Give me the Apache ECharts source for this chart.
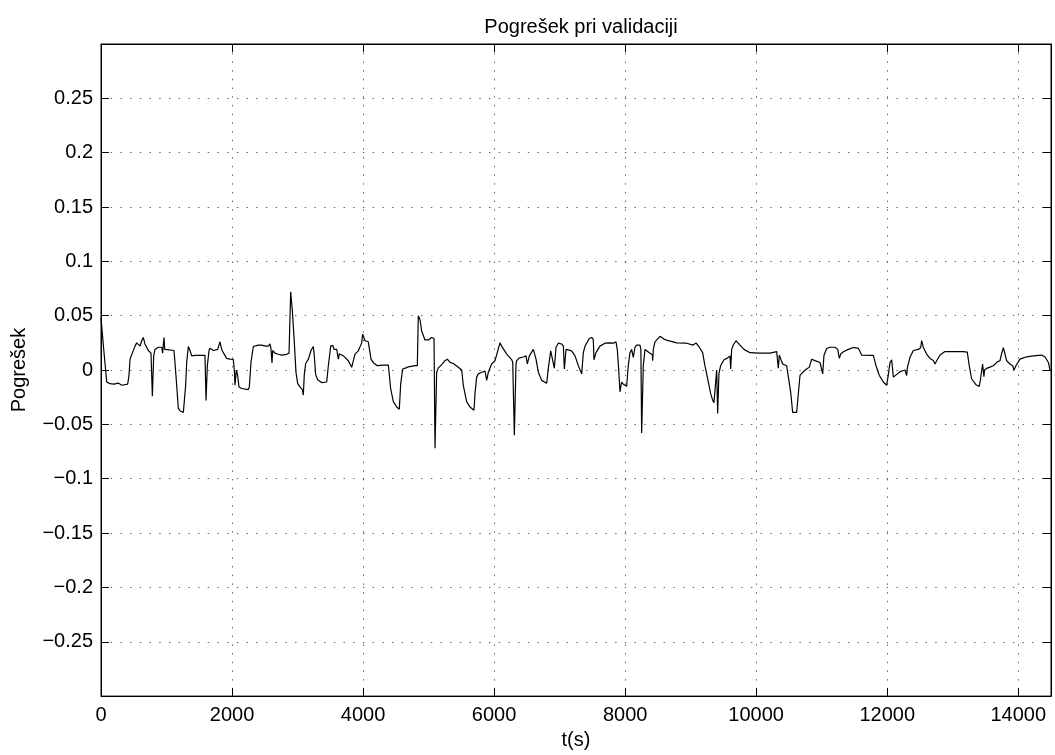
<!DOCTYPE html>
<html>
<head>
<meta charset="utf-8">
<script src="https://cdn.jsdelivr.net/npm/echarts@6/dist/echarts.min.js"></script>
<style>
html,body{margin:0;padding:0;background:#fff;}
#chart{width:1055px;height:755px;}
</style>
</head>
<body>
<div id="chart"></div>
<script>
const chartTitle = 'Pogrešek pri validaciji';
const xAxisName = 't(s)';
const yAxisName = 'Pogrešek';

const tSec = [
0,40,87,137,200,260,320,407,427,443,478,519,545,570,596,621,646,670,697,722,763,784,804,824,875,926,941,951,962,972,1002,
1114,1129,1155,1180,1206,1257,1272,1292,1308,1333,1358,1384,1435,1536,1587,1603,1623,1649,1664,1714,1781,1816,1842,1867,1918,1969,
2019,2035,2045,2065,2086,2106,2147,2248,2264,2289,2325,2350,2401,2452,2477,2513,2553,2579,2594,2610,2620,2655,2706,2757,2834,2870,
2895,2920,2951,2976,3002,3037,3073,3088,3103,3124,3165,3205,3241,3256,3276,3307,3368,3445,3470,3506,3537,3557,3598,3623,3638,3700,
3775,3826,3852,3877,3928,3953,3979,3994,4030,4080,4106,4121,4157,4218,4309,4386,4421,4462,4513,4553,4574,4604,4625,4655,4691,4792,
4828,4843,4869,4894,4945,4996,5047,5083,5098,5123,5149,5200,5250,5286,5327,5378,5454,5505,5530,5581,5632,5693,5709,5734,5759,5810,
5861,5887,5912,5963,6014,6090,6115,6192,6268,6284,6309,6334,6344,6380,6446,6487,6507,6538,6599,6640,6675,6726,6803,6828,6864,6894,
6919,6945,6980,7031,7057,7072,7098,7118,7184,7235,7286,7337,7362,7388,7453,7489,7514,7524,7555,7616,7692,7768,7819,7860,7880,7901,
7921,7946,7972,7997,8023,8048,8074,8099,8124,8150,8175,8226,8240,8252,8277,8303,8328,8369,8415,8420,8430,8455,8532,8593,8659,8787,
8939,9040,9081,9132,9183,9218,9270,9305,9336,9356,9382,9397,9412,9432,9458,9509,9560,9601,9611,9626,9651,9692,9753,9814,9906,10058,
10211,10313,10338,10353,10374,10404,10465,10491,10526,10557,10618,10643,10669,10720,10771,10811,10847,10898,10974,11000,11015,11035,
11076,11127,11203,11244,11270,11290,11331,11407,11483,11560,11610,11788,11829,11880,11941,11992,12018,12043,12068,12094,12145,12196,
12272,12297,12307,12348,12399,12475,12511,12526,12552,12602,12653,12704,12730,12755,12806,12882,13009,13161,13222,13252,13288,13354,
13405,13425,13456,13476,13486,13517,13568,13619,13680,13721,13746,13772,13797,13823,13874,13914,13935,13965,14026,14128,14230,14358,
14409,14460,14485
];

const pogresek = [
0.048,0.02,-0.011,-0.0125,-0.013,-0.012,-0.014,-0.013,-0.005,0.010,0.0156,0.022,0.025,0.024,0.022,0.027,0.030,0.024,0.021,0.018,0.0156,-0.024,0.013,0.019,0.021,0.021,0.0156,0.023,0.030,0.019,0.019,
0.018,0.007,-0.014,-0.035,-0.0375,-0.039,-0.038,-0.014,0.007,0.0217,0.018,0.013,0.0135,0.0135,0.0135,-0.028,0.004,0.018,0.020,0.018,0.019,0.026,0.019,0.016,0.0107,0.010,
0.0098,0.0,-0.014,0.0,-0.005,-0.0156,-0.017,-0.018,-0.0156,0.007,0.0217,0.021,0.023,0.023,0.024,0.022,0.022,0.024,0.020,0.0065,0.018,0.0156,0.0145,0.0137,0.0145,0.0156,
0.072,0.055,0.025,-0.002,-0.0125,-0.0155,-0.018,-0.023,-0.004,0.006,0.010,0.018,0.0217,0.013,-0.004,-0.009,-0.0115,-0.011,0.004,0.022,0.0227,0.019,0.019,0.010,0.015,0.013,
0.0086,0.0026,0.0086,0.0147,0.0177,0.019,0.025,0.033,0.027,0.026,0.025,0.010,0.0068,0.004,0.0046,0.0046,-0.017,-0.029,-0.034,-0.036,-0.013,0.001,0.0,0.002,0.003,0.004,
0.004,0.050,0.0465,0.036,0.0277,0.0277,0.030,0.029,-0.072,-0.002,0.002,0.005,0.0086,0.010,0.007,0.006,0.0026,0.0,-0.014,-0.029,-0.034,-0.037,-0.021,-0.0065,-0.0035,-0.002,
-0.001,-0.0095,-0.002,0.0056,0.0086,0.025,0.022,0.0147,0.0095,0.0075,-0.060,0.005,0.0086,0.011,0.012,0.013,0.0056,0.013,0.019,0.010,-0.002,-0.0095,-0.0122,0.002,0.0177,0.019,
0.0017,0.021,0.0247,0.024,0.022,0.001,0.019,0.0207,0.0177,0.013,0.004,-0.0035,0.016,0.022,0.029,0.030,0.028,0.0095,0.016,0.022,0.0247,0.025,0.0247,0.026,0.019,0.001,
-0.020,-0.011,-0.013,-0.0147,-0.015,0.004,0.016,0.019,0.0117,0.021,0.023,0.023,0.019,-0.058,0.004,0.019,0.0195,0.016,0.014,0.0086,0.019,0.026,0.031,0.0285,0.027,0.025,
0.0247,0.023,0.025,0.021,0.016,0.004,-0.011,-0.0217,-0.0277,-0.030,-0.011,0.0,-0.040,-0.003,0.004,0.0095,0.011,0.013,0.001,0.019,0.023,0.027,0.023,0.019,0.016,0.0155,
0.0155,0.017,0.0017,0.0137,0.013,0.0056,0.004,0.003,-0.020,-0.039,-0.039,-0.022,-0.005,-0.0014,0.001,0.0027,0.010,0.0087,0.007,0.0065,-0.0035,0.0137,
0.0198,0.021,0.021,0.019,0.0107,0.0147,0.0168,0.019,0.0208,0.020,0.0138,0.0135,0.004,-0.005,-0.011,-0.014,-0.004,0.007,0.0095,-0.0065,-0.004,-0.0015,
0.0,-0.005,0.002,0.0117,0.018,0.019,0.0205,0.027,0.0208,0.0147,0.0107,0.0087,0.0056,0.0085,0.0138,0.017,0.017,0.017,0.0165,0.004,-0.008,-0.0135,
-0.015,-0.008,0.0056,-0.006,0.0,0.0015,0.0027,0.004,0.0075,0.0086,0.015,0.0207,0.015,0.0086,0.0056,0.004,0.0,0.004,0.010,0.0122,0.013,0.0138,
0.012,0.007,0.0
];

const xMin = 0, xMax = 14500, xStep = 2000;
const yMin = -0.3, yMax = 0.3, yStep = 0.05;

const FONT = 'Liberation Sans, Arial, Helvetica, sans-serif';
const chart = echarts.init(document.getElementById('chart'), null, {renderer: 'canvas'});
const lineData = tSec.map((t, i) => [t, pogresek[i]]);

function fmtX(v) {
  if (v > 14000) return '';
  return String(Math.round(v));
}
function fmtY(v) {
  const r = Math.round(v * 100) / 100;
  if (Math.abs(Math.abs(r) - 0.3) < 1e-9) return '';
  if (Math.abs(r) < 1e-9) return '0';
  let s = String(Math.abs(r));
  return (r < 0 ? '\u2212' : '') + s;
}

const gridDotsH = {type: [1.5, 8.2], color: '#666', width: 1};
const gridDotsV = {type: [1.5, 7.2], color: '#666', width: 1};
const tickStyle = {show: true, inside: true, length: 8, lineStyle: {color: '#000', width: 1}};

chart.setOption({
  animation: false,
  backgroundColor: '#fff',
  title: {
    text: chartTitle,
    left: 576,
    top: 12,
    textAlign: 'center',
    textStyle: {fontFamily: FONT, fontSize: 20, fontWeight: 'normal', color: '#000'}
  },
  grid: {left: 101, right: 4, top: 44, bottom: 51, show: true, borderColor: '#000', borderWidth: 1, backgroundColor: '#fff'},
  xAxis: [{
    type: 'value', min: xMin, max: xMax, interval: xStep, position: 'bottom',
    name: xAxisName, nameLocation: 'middle', nameGap: 23,
    nameTextStyle: {fontFamily: FONT, fontSize: 20, color: '#000'},
    axisLine: {show: true, onZero: false, lineStyle: {color: '#000', width: 1}},
    axisTick: tickStyle,
    axisLabel: {fontFamily: FONT, fontSize: 20, color: '#000', margin: 9, showMaxLabel: false, formatter: fmtX},
    splitLine: {show: true, lineStyle: gridDotsV}
  }, {
    type: 'value', min: xMin, max: xMax, interval: xStep, position: 'top',
    axisLine: {show: true, onZero: false, lineStyle: {color: '#000', width: 1}},
    axisTick: tickStyle,
    axisLabel: {show: false},
    splitLine: {show: false}
  }],
  yAxis: [{
    type: 'value', min: yMin, max: yMax, interval: yStep, position: 'left',
    name: yAxisName, nameLocation: 'middle', nameGap: 72, nameRotate: 90,
    nameTextStyle: {fontFamily: FONT, fontSize: 20, color: '#000'},
    axisLine: {show: true, onZero: false, lineStyle: {color: '#000', width: 1}},
    axisTick: tickStyle,
    axisLabel: {fontFamily: FONT, fontSize: 20, color: '#000', margin: 8, formatter: fmtY},
    splitLine: {show: true, lineStyle: gridDotsH}
  }, {
    type: 'value', min: yMin, max: yMax, interval: yStep, position: 'right',
    axisLine: {show: true, onZero: false, lineStyle: {color: '#000', width: 1}},
    axisTick: tickStyle,
    axisLabel: {show: false},
    splitLine: {show: false}
  }],
  series: [{
    type: 'line',
    xAxisIndex: 0, yAxisIndex: 0,
    data: lineData,
    showSymbol: false,
    symbol: 'none',
    smooth: false,
    lineStyle: {color: '#000', width: 1.2},
    z: 5
  }]
});
</script>
</body>
</html>
